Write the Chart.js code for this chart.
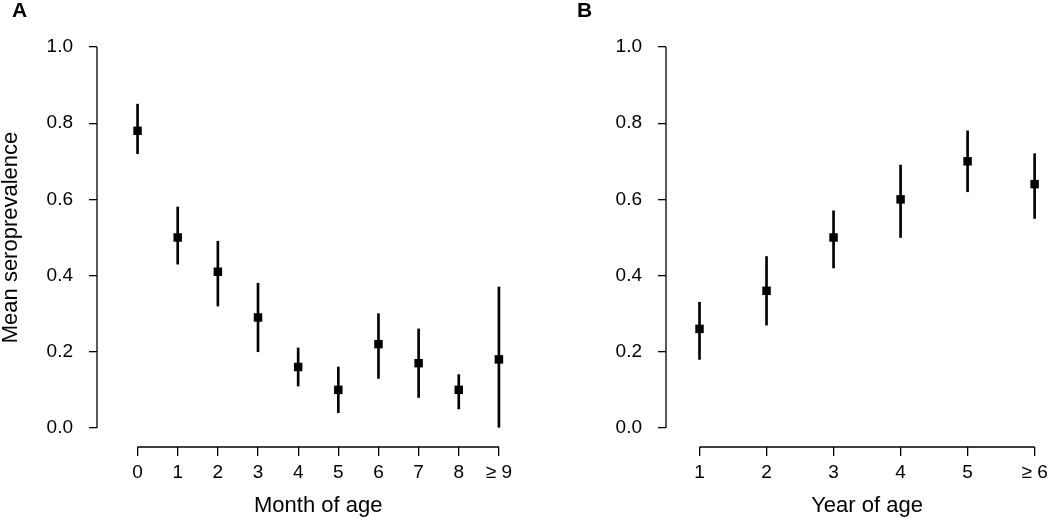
<!DOCTYPE html>
<html>
<head>
<meta charset="utf-8">
<script src="https://cdn.jsdelivr.net/npm/chart.js"></script>
<style>
  html, body { margin: 0; padding: 0; background: #fff; }
  #wrap { position: relative; width: 1050px; height: 518px; }
  #wrap canvas { position: absolute; top: 0; }
</style>
</head>
<body>
<div id="wrap">
  <canvas id="panel-a" width="525" height="518" style="left:0"></canvas>
  <canvas id="panel-b" width="525" height="518" style="left:525px"></canvas>
</div>
<script>
// Panel A: month of age
const monthLabels = ['0', '1', '2', '3', '4', '5', '6', '7', '8', '≥ 9'];
const monthMean = [0.78, 0.50, 0.41, 0.29, 0.16, 0.10, 0.22, 0.17, 0.10, 0.18];
const monthLow = [0.72, 0.43, 0.32, 0.20, 0.11, 0.04, 0.13, 0.08, 0.05, 0.00];
const monthHigh = [0.85, 0.58, 0.49, 0.38, 0.21, 0.16, 0.30, 0.26, 0.14, 0.37];

// Panel B: year of age
const yearLabels = ['1', '2', '3', '4', '5', '≥ 6'];
const yearMean = [0.26, 0.36, 0.50, 0.60, 0.70, 0.64];
const yearLow = [0.18, 0.27, 0.42, 0.50, 0.62, 0.55];
const yearHigh = [0.33, 0.45, 0.57, 0.69, 0.78, 0.72];

const yTickValues = [0, 0.2, 0.4, 0.6, 0.8, 1.0];

const FONT = 'Liberation Sans, Arial, Helvetica, sans-serif';
const INK = '#000';

// R-style detached axes, axis titles and panel letter
const rAxes = {
  id: 'rAxes',
  afterDraw(chart, args, opts) {
    const { ctx, chartArea, scales: { x, y } } = chart;
    const yTop = y.getPixelForValue(yTickValues[yTickValues.length - 1]);
    const yBot = y.getPixelForValue(yTickValues[0]);
    const xL = x.getPixelForValue(x.ticks[0].value);
    const xR = x.getPixelForValue(x.ticks[x.ticks.length - 1].value);
    ctx.save();
    ctx.strokeStyle = INK;
    ctx.lineWidth = 1.3;
    ctx.beginPath();
    ctx.moveTo(chartArea.left, yBot);
    ctx.lineTo(chartArea.left, yTop);
    ctx.moveTo(xL, chartArea.bottom);
    ctx.lineTo(xR, chartArea.bottom);
    ctx.stroke();

    ctx.fillStyle = INK;
    ctx.textAlign = 'center';
    ctx.textBaseline = 'middle';
    ctx.font = '22px ' + FONT;
    ctx.fillText(opts.xTitle, (xL + xR) / 2, 506);
    if (opts.yTitle) {
      ctx.save();
      ctx.translate(11, (yTop + yBot) / 2);
      ctx.rotate(-Math.PI / 2);
      ctx.fillText(opts.yTitle, 0, 0);
      ctx.restore();
    }
    ctx.textAlign = 'left';
    ctx.textBaseline = 'top';
    ctx.font = 'bold 21px ' + FONT;
    ctx.fillText(opts.letter, opts.letterX, 1);
    ctx.restore();
  },
};

function makePanel(id, cfg) {
  const { labels, mean, low, high } = cfg;
  return new Chart(document.getElementById(id), {
    type: 'scatter',
    data: {
      datasets: [
        {
          type: 'scatter',
          data: mean.map((v, i) => ({ x: i, y: v })),
          pointStyle: 'rect',
          pointRadius: 6,
          pointBorderWidth: 0,
          pointBackgroundColor: INK,
          pointHoverRadius: 6,
        },
        {
          type: 'bar',
          data: low.map((lo, i) => ({ x: i, y: [lo, high[i]] })),
          backgroundColor: INK,
          borderWidth: 0,
          barThickness: 2,
          grouped: false,
        },
      ],
    },
    options: {
      responsive: false,
      animation: false,
      events: [],
      layout: { padding: { top: 47, right: 5, bottom: 0, left: 0 } },
      plugins: {
        legend: { display: false },
        tooltip: { enabled: false },
        rAxes: { xTitle: cfg.xTitle, yTitle: cfg.yTitle, letter: cfg.letter, letterX: cfg.letterX },
      },
      scales: {
        x: {
          type: 'linear',
          min: cfg.xMin,
          max: cfg.xMax,
          offset: false,
          afterBuildTicks: (s) => { s.ticks = labels.map((_, i) => ({ value: i })); },
          afterFit: (s) => { s.height = 71; s.paddingRight = 0; s.paddingLeft = 0; },
          ticks: {
            autoSkip: false,
            maxRotation: 0,
            padding: 5,
            color: INK,
            font: { family: FONT, size: 19 },
            callback: (v) => labels[v],
          },
          grid: { drawOnChartArea: false, drawTicks: true, tickLength: 9, color: INK, lineWidth: 1.3, offset: false },
          border: { display: false },
        },
        y: {
          min: -0.05,
          max: 1,
          afterBuildTicks: (s) => { s.ticks = yTickValues.map((v) => ({ value: v })); },
          afterFit: (s) => { s.width = cfg.yWidth; },
          ticks: {
            padding: 16,
            color: INK,
            font: { family: FONT, size: 19 },
            callback: (v) => v.toFixed(1),
          },
          grid: { drawOnChartArea: false, drawTicks: true, tickLength: 8, color: INK, lineWidth: 1.3 },
          border: { display: false },
        },
      },
    },
    plugins: [rAxes],
  });
}

makePanel('panel-a', {
  labels: monthLabels, mean: monthMean, low: monthLow, high: monthHigh,
  xMin: -1.01, xMax: 9.5, yWidth: 97,
  xTitle: 'Month of age', yTitle: 'Mean seroprevalence', letter: 'A', letterX: 12,
});

makePanel('panel-b', {
  labels: yearLabels, mean: yearMean, low: yearLow, high: yearHigh,
  xMin: -0.5, xMax: 5.14, yWidth: 141,
  xTitle: 'Year of age', yTitle: null, letter: 'B', letterX: 52,
});
</script>
</body>
</html>
